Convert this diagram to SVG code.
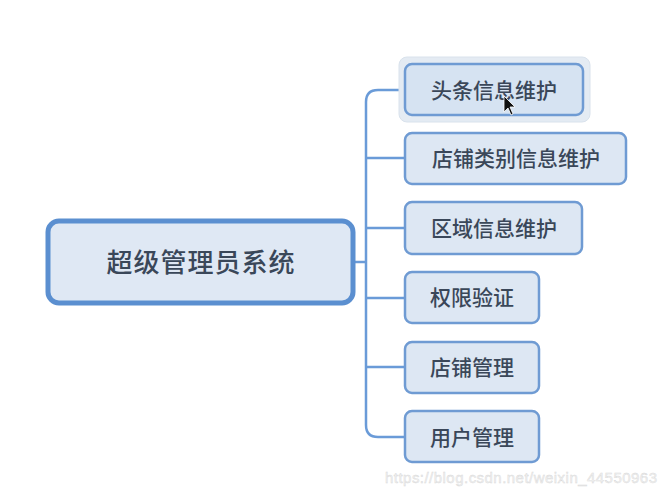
<svg xmlns="http://www.w3.org/2000/svg" width="666" height="497" viewBox="0 0 666 497">
  <style>
    .box { fill: #dde7f3; stroke: #6f9bd3; stroke-width: 2.5; }
    .root { fill: #dfe8f4; stroke: #5b8fd0; stroke-width: 5; }
    .lbl { font-family: "Noto Sans CJK SC", "Noto Sans", sans-serif; font-size: 21px; font-weight: 500; fill: #3a4759; text-anchor: middle; }
    .rlbl { font-family: "Noto Sans CJK SC", "Noto Sans", sans-serif; font-size: 26px; font-weight: 500; fill: #3a4759; text-anchor: middle; letter-spacing: 1px; }
    .conn { fill: none; stroke: #6a9bd8; stroke-width: 2.5; }
  </style>
  <rect width="666" height="497" fill="#ffffff"/>
  <g id="connectors">
    <path class="conn" d="M353 262 H366"/>
    <path class="conn" d="M405 90 H378 Q366 90 366 102 V425 Q366 437 378 437 H405"/>
    <path class="conn" d="M366 158 H405"/>
    <path class="conn" d="M366 228 H405"/>
    <path class="conn" d="M366 298 H405"/>
    <path class="conn" d="M366 367 H405"/>
  </g>
  <g id="root">
    <rect class="root" x="48" y="221" width="305" height="82" rx="11"/>
    <text class="rlbl" x="201" y="272">超级管理员系统</text>
  </g>
  <g id="n1">
    <rect x="399" y="57" width="191" height="65" rx="8" fill="#e4ebf3" stroke="#d9e2ec" stroke-width="1"/>
    <rect class="box" x="405" y="64" width="178" height="51" rx="7" style="fill:#d6e3f2"/>
    <text class="lbl" x="494" y="98">头条信息维护</text>
  </g>
  <g id="n2">
    <rect class="box" x="405" y="133" width="221" height="51" rx="7"/>
    <text class="lbl" x="516" y="166">店铺类别信息维护</text>
  </g>
  <g id="n3">
    <rect class="box" x="405" y="202" width="177" height="52" rx="7"/>
    <text class="lbl" x="494" y="236">区域信息维护</text>
  </g>
  <g id="n4">
    <rect class="box" x="405" y="272" width="134" height="51" rx="7"/>
    <text class="lbl" x="472" y="305">权限验证</text>
  </g>
  <g id="n5">
    <rect class="box" x="405" y="342" width="134" height="51" rx="7"/>
    <text class="lbl" x="472" y="375">店铺管理</text>
  </g>
  <g id="n6">
    <rect class="box" x="405" y="411" width="134" height="51" rx="7"/>
    <text class="lbl" x="472" y="445">用户管理</text>
  </g>
  <path d="M504 96 L504 112 L508 108 L511 115 L513 114 L510 107 L515 107 Z" fill="#111" stroke="#fff" stroke-width="0.8"/>
  <text x="385" y="483" font-family="Liberation Sans, Arial, sans-serif" font-size="15" fill="#f2f2f2" stroke="#d8d8d8" stroke-width="0.4" textLength="272">https://blog.csdn.net/weixin_44550963</text>
</svg>
